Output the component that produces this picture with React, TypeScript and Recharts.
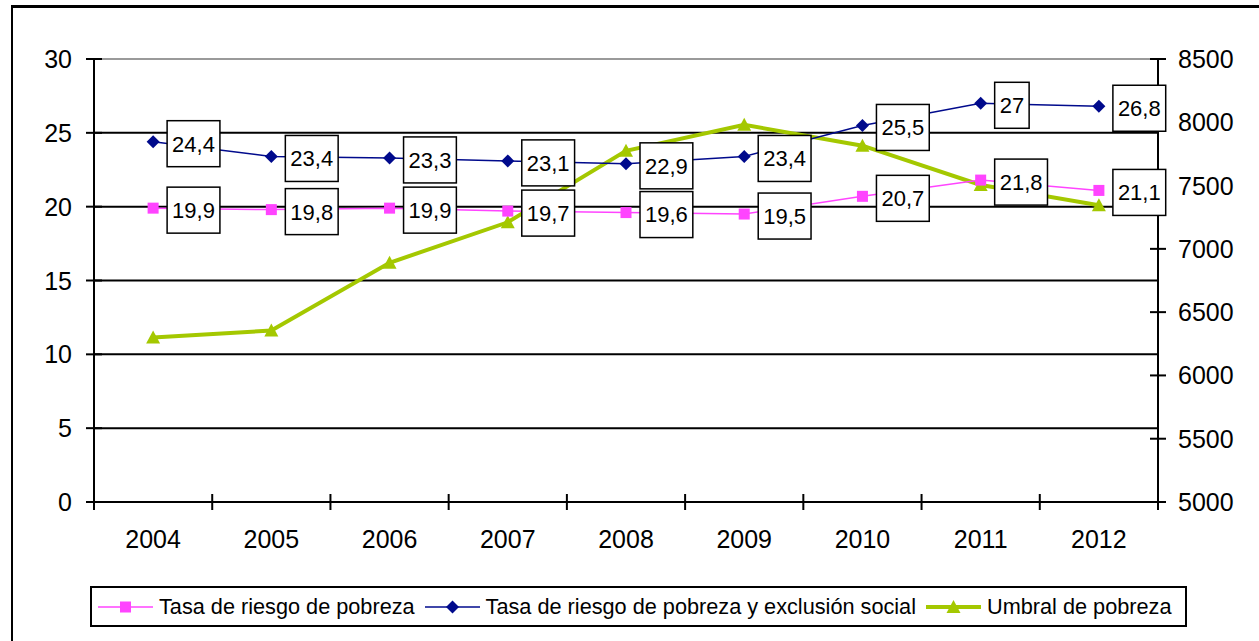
import { CartesianGrid, LabelList, Line, LineChart, ReferenceLine, XAxis, YAxis } from "recharts";

const years = ["2004", "2005", "2006", "2007", "2008", "2009", "2010", "2011", "2012"];
const tasaPobreza = [19.9, 19.8, 19.9, 19.7, 19.6, 19.5, 20.7, 21.8, 21.1];
const tasaExclusion = [24.4, 23.4, 23.3, 23.1, 22.9, 23.4, 25.5, 27, 26.8];
const umbralPobreza = [6300, 6355, 6890, 7210, 7775, 7980, 7815, 7505, 7345];
const leftTicks = [0, 5, 10, 15, 20, 25, 30];
const rightTicks = [5000, 5500, 6000, 6500, 7000, 7500, 8000, 8500];

const rows = years.map((year, i) => ({
  year,
  pobreza: tasaPobreza[i],
  exclusion: tasaExclusion[i],
  umbral: umbralPobreza[i],
}));

const FONT = '"Liberation Sans", Arial, sans-serif';
const PINK = "#ff44ff";
const BLUE = "#000a8c";
const GREEN = "#a4c800";

const W = 1259;
const H = 641;
const LEFT_W = 94;
const RIGHT_W = 101;
const PLOT_W = W - LEFT_W - RIGHT_W;
const BAND = PLOT_W / years.length;

const textWidth = (s: string, size: number) =>
  s.split("").reduce((w, c) => w + (c === "," ? 0.278 : 0.556), 0) * size;

const fmt = (v: number) => String(v).replace(".", ",");

function ValueBox(props: any) {
  const { x, y, value } = props;
  if (x == null || y == null) return null;
  const s = fmt(value);
  const w = textWidth(s, 22) + 10;
  const left = x + 14;
  const cy = y + 2;
  return (
    <g>
      <rect x={left} y={cy - 23} width={w} height={46} fill="#fff" stroke="#000" strokeWidth={1.5} />
      <text x={left + w / 2} y={cy} dy="0.36em" textAnchor="middle" fontSize={22} fontFamily={FONT} fill="#000">
        {s}
      </text>
    </g>
  );
}

function SquareDot(props: any) {
  const { cx, cy, index } = props;
  return <rect key={`sq-${index}`} x={cx - 5.5} y={cy - 5.5} width={11} height={11} fill={PINK} />;
}

function DiamondDot(props: any) {
  const { cx, cy, index } = props;
  return (
    <path key={`dm-${index}`} d={`M${cx},${cy - 6.5} L${cx + 6.5},${cy} L${cx},${cy + 6.5} L${cx - 6.5},${cy} Z`} fill={BLUE} />
  );
}

function TriangleDot(props: any) {
  const { cx, cy, index } = props;
  return (
    <path key={`tr-${index}`} d={`M${cx},${cy - 7} L${cx + 7},${cy + 6} L${cx - 7},${cy + 6} Z`} fill={GREEN} />
  );
}

function YearTick(props: any) {
  const { x, y, payload, index } = props;
  const last = index === years.length - 1;
  return (
    <g>
      <line x1={x - BAND / 2} x2={x - BAND / 2} y1={y - 8} y2={y + 8} stroke="#000" strokeWidth={2} />
      {last && <line x1={x + BAND / 2} x2={x + BAND / 2} y1={y - 8} y2={y + 8} stroke="#000" strokeWidth={2} />}
      <text x={x} y={y + 46} textAnchor="middle" fontSize={25} fontFamily={FONT} fill="#000">
        {payload.value}
      </text>
    </g>
  );
}

function LeftTick(props: any) {
  const { x, y, payload } = props;
  return (
    <g>
      <line x1={x - 8} x2={x + 8} y1={y} y2={y} stroke="#000" strokeWidth={2} />
      <text x={x - 22} y={y} dy="0.36em" textAnchor="end" fontSize={25} fontFamily={FONT} fill="#000">
        {payload.value}
      </text>
    </g>
  );
}

function RightTick(props: any) {
  const { x, y, payload } = props;
  return (
    <g>
      <line x1={x - 8} x2={x + 8} y1={y} y2={y} stroke="#000" strokeWidth={2} />
      <text x={x + 20} y={y} dy="0.36em" textAnchor="start" fontSize={25} fontFamily={FONT} fill="#000">
        {payload.value}
      </text>
    </g>
  );
}

const legendItems = [
  { name: "Tasa de riesgo de pobreza", color: PINK, width: 1.5, shape: "square" },
  { name: "Tasa de riesgo de pobreza y exclusión social", color: BLUE, width: 1.5, shape: "diamond" },
  { name: "Umbral de pobreza", color: GREEN, width: 4, shape: "triangle" },
];

function LegendMarker({ color, width, shape }: { color: string; width: number; shape: string }) {
  return (
    <svg width={55} height={20} style={{ display: "block" }}>
      <line x1={0} x2={55} y1={10} y2={10} stroke={color} strokeWidth={width} />
      {shape === "square" && <rect x={22} y={4.5} width={11} height={11} fill={color} />}
      {shape === "diamond" && <path d="M27.5,3.5 L34,10 L27.5,16.5 L21,10 Z" fill={color} />}
      {shape === "triangle" && <path d="M27.5,3 L34.5,16 L20.5,16 Z" fill={color} />}
    </svg>
  );
}

export default function App() {
  return (
    <div style={{ position: "absolute", left: 0, top: 0, width: W, height: H, background: "#fff", overflow: "hidden" }}>
      <div
        style={{
          position: "absolute",
          left: 11,
          top: 5,
          width: W,
          height: H,
          borderLeft: "2px solid #000",
          borderTop: "3px solid #000",
        }}
      />
      <div style={{ position: "absolute", left: 0, top: 0 }}>
        <LineChart width={W} height={H} data={rows} margin={{ top: 59, right: 0, bottom: 99, left: 0 }}>
          <CartesianGrid yAxisId="left" vertical={false} stroke="#000" strokeWidth={2} />
          <ReferenceLine yAxisId="left" y={30} stroke="#9a9a9a" strokeWidth={2} />
          <XAxis
            dataKey="year"
            scale="band"
            height={40}
            axisLine={{ stroke: "#000", strokeWidth: 2 }}
            tickLine={false}
            tickSize={0}
            tickMargin={0}
            tick={YearTick}
            interval={0}
          />
          <YAxis
            yAxisId="left"
            width={LEFT_W}
            domain={[0, 30]}
            ticks={leftTicks}
            axisLine={{ stroke: "#000", strokeWidth: 2 }}
            tickLine={false}
            tickSize={0}
            tickMargin={0}
            tick={LeftTick}
            interval={0}
          />
          <YAxis
            yAxisId="right"
            orientation="right"
            width={RIGHT_W}
            domain={[5000, 8500]}
            ticks={rightTicks}
            axisLine={{ stroke: "#000", strokeWidth: 2 }}
            tickLine={false}
            tickSize={0}
            tickMargin={0}
            tick={RightTick}
            interval={0}
          />
          <Line
            yAxisId="right"
            dataKey="umbral"
            name="Umbral de pobreza"
            type="linear"
            stroke={GREEN}
            strokeWidth={4}
            dot={TriangleDot}
            activeDot={false}
            isAnimationActive={false}
          />
          <Line
            yAxisId="left"
            dataKey="pobreza"
            name="Tasa de riesgo de pobreza"
            type="linear"
            stroke={PINK}
            strokeWidth={1.5}
            dot={SquareDot}
            activeDot={false}
            isAnimationActive={false}
          >
            <LabelList dataKey="pobreza" content={ValueBox} />
          </Line>
          <Line
            yAxisId="left"
            dataKey="exclusion"
            name="Tasa de riesgo de pobreza y exclusión social"
            type="linear"
            stroke={BLUE}
            strokeWidth={1.5}
            dot={DiamondDot}
            activeDot={false}
            isAnimationActive={false}
          >
            <LabelList dataKey="exclusion" content={ValueBox} />
          </Line>
        </LineChart>
      </div>
      <div
        style={{
          position: "absolute",
          left: 90,
          top: 586,
          width: 1097,
          height: 41,
          boxSizing: "border-box",
          border: "2px solid #000",
          display: "flex",
          alignItems: "center",
          paddingLeft: 6,
          fontFamily: FONT,
          fontSize: 21.7,
          color: "#000",
          whiteSpace: "nowrap",
        }}
      >
        {legendItems.map((item) => (
          <div key={item.name} style={{ display: "flex", alignItems: "center", marginRight: 10 }}>
            <LegendMarker color={item.color} width={item.width} shape={item.shape} />
            <span style={{ marginLeft: 6 }}>{item.name}</span>
          </div>
        ))}
      </div>
    </div>
  );
}
